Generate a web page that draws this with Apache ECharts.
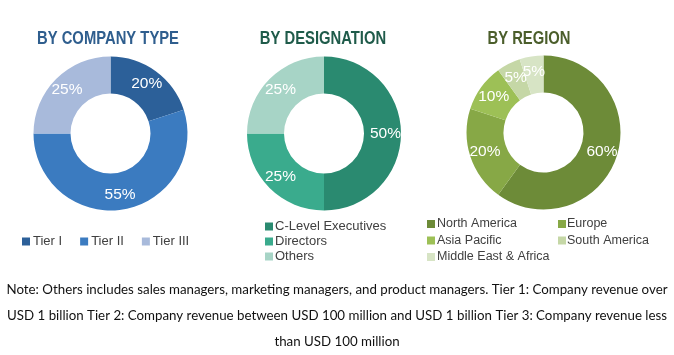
<!DOCTYPE html>
<html><head><meta charset="utf-8">
<script src="https://cdn.jsdelivr.net/npm/echarts@6/dist/echarts.min.js"></script>
<style>html,body{margin:0;padding:0;background:#fff}#c{width:674px;height:355px}</style>
</head><body><div id="c"></div>
<script>
const titles = ['BY COMPANY TYPE', 'BY DESIGNATION', 'BY REGION'];
const companyNames = ['Tier I', 'Tier II', 'Tier III'];
const companyValues = [20, 55, 25];
const designationNames = ['C-Level Executives', 'Directors', 'Others'];
const designationValues = [50, 25, 25];
const regionNames = ['North America', 'Europe', 'Asia Pacific', 'South America', 'Middle East & Africa'];
const regionValues = [60, 20, 10, 5, 5];
const noteLines = [
  'Note: Others includes sales managers, marketing managers, and product managers. Tier 1: Company revenue over',
  'USD 1 billion Tier 2: Company revenue between USD 100 million and USD 1 billion Tier 3: Company revenue less',
  'than USD 100 million'
];

const companyColors = ['#2c6099', '#3b7bc0', '#a8badb'];
const designationColors = ['#2a8a70', '#3aab8d', '#a7d4c6'];
const regionColors = ['#6d8b38', '#87a846', '#9dc056', '#c5d7a6', '#d7e4c5'];
const titleColors = ['#2f5e8e', '#1f5b4a', '#4b5e2b'];

const chart = echarts.init(document.getElementById('c'), null, {renderer: 'canvas'});

function mk(names, values, colors) {
  return names.map((n, i) => ({name: n, value: values[i], itemStyle: {color: colors[i]}}));
}
const labelCfg = {
  show: true, position: 'inside', formatter: '{c}%', color: '#fff',
  fontFamily: 'Liberation Sans', fontSize: 15.5
};
function pie(center, data) {
  return {
    type: 'pie', center: center, radius: [40, 77], startAngle: 90, clockwise: true,
    silent: true, animation: false, avoidLabelOverlap: false,
    labelLayout: {hideOverlap: false},
    label: labelCfg, labelLine: {show: false},
    itemStyle: {borderWidth: 0}, emphasis: {disabled: true}, data: data
  };
}
const legBase = {
  icon: 'rect', itemWidth: 8, itemHeight: 8, itemGap: 0, padding: 0,
  selectedMode: false,
  textStyle: {fontFamily: 'Liberation Sans', fontSize: 13, color: '#404040', lineHeight: 15}
};

const graphics = [];
const titleX = [108, 323, 529];
titles.forEach((t, i) => graphics.push({
  type: 'text', x: titleX[i], y: 38.5, scaleX: 0.8,
  style: {text: t, x: 0, y: 0, textAlign: 'center', textVerticalAlign: 'middle',
    font: 'bold 18.5px "Liberation Sans"', fill: titleColors[i]}
}));
const noteY = [290, 316, 342];
noteLines.forEach((t, i) => graphics.push({
  type: 'text', style: {text: t, x: 337, y: noteY[i], textAlign: 'center', textVerticalAlign: 'middle',
    font: '13.3px Lato', fill: '#111'}
}));

chart.setOption({
  animation: false,
  graphic: graphics,
  legend: [
    Object.assign({}, legBase, {orient: 'horizontal', left: 22, top: 234, itemGap: 18, data: companyNames,
      textStyle: Object.assign({}, legBase.textStyle, {padding: [0, 0, 0, -2]})}),
    Object.assign({}, legBase, {orient: 'vertical', left: 265, top: 219, itemGap: 0, data: designationNames,
      textStyle: Object.assign({}, legBase.textStyle, {fontSize: 13, lineHeight: 15, padding: [0, 0, 0, -3]})}),
    Object.assign({}, legBase, {orient: 'vertical', left: 427, top: 216.5, itemGap: 1.5,
      data: ['North America', 'Asia Pacific', 'Middle East & Africa'],
      textStyle: Object.assign({}, legBase.textStyle, {fontSize: 12.5, padding: [0, 0, 0, -3]})}),
    Object.assign({}, legBase, {orient: 'vertical', left: 558, top: 216.5, itemGap: 1.5,
      data: ['Europe', 'South America'],
      textStyle: Object.assign({}, legBase.textStyle, {fontSize: 12.5, padding: [0, 0, 0, -4]})})
  ],
  series: [
    pie([110.5, 133.5], mk(companyNames, companyValues, companyColors)),
    pie([324, 133.5], mk(designationNames, designationValues, designationColors)),
    pie([543.5, 132.5], mk(regionNames, regionValues, regionColors))
  ]
});
</script></body></html>
